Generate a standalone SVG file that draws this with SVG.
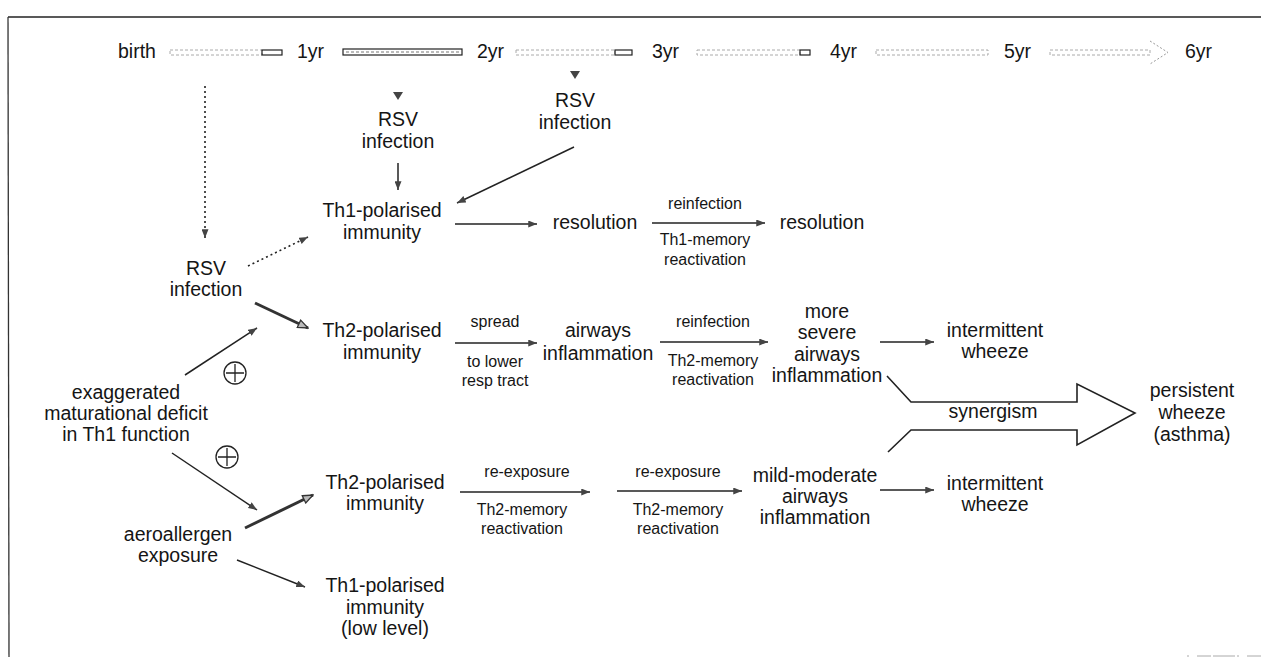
<svg xmlns="http://www.w3.org/2000/svg" width="1261" height="657" viewBox="0 0 1261 657">
<style>
text{font-family:"Liberation Sans",Arial,sans-serif;fill:#151515;text-anchor:middle}
.m{font-size:19.5px}
.s{font-size:16px}
.tl{font-size:19.5px;text-anchor:start}
.ln{stroke:#222;stroke-width:1.5;fill:none}
.thk{stroke:#333;stroke-width:3;fill:none}
.dot{stroke:#222;stroke-width:1.6;fill:none;stroke-dasharray:2 3}
.fbar{fill:none;stroke:#aaa;stroke-width:1;stroke-dasharray:3 2}
.sbar{fill:none;stroke:#222;stroke-width:1.2}
.tri{fill:#444}
</style>
<defs>
<marker id="ah" viewBox="0 0 10 8" refX="10" refY="4" markerWidth="9" markerHeight="7" markerUnits="userSpaceOnUse" orient="auto">
<path d="M0,0 L10,4 L0,8 z" fill="#444"/>
</marker>
<marker id="ahH" viewBox="0 0 12 10" refX="11" refY="5" markerWidth="12" markerHeight="10" markerUnits="userSpaceOnUse" orient="auto">
<path d="M1,1 L11,5 L1,9 z" fill="#bbb" stroke="#333" stroke-width="1.3"/>
</marker>
</defs>

<g id="frame">
<line x1="8" y1="17" x2="1261" y2="17" stroke="#222" stroke-width="1.5"/>
<line x1="8" y1="17" x2="9" y2="657" stroke="#333" stroke-width="1.3"/>
<line x1="1187" y1="656" x2="1261" y2="656" stroke="#aaa" stroke-width="1" stroke-dasharray="2 8 14 2 22 2"/>
</g>

<g id="timeline">
<text class="tl" x="118" y="58">birth</text>
<rect class="fbar" x="170" y="50" width="92" height="5"/>
<rect class="sbar" x="262" y="50" width="20" height="5"/>
<text class="tl" x="297" y="58">1yr</text>
<rect class="sbar" x="343" y="49" width="119" height="6"/>
<line x1="346" y1="52" x2="459" y2="52" stroke="#777" stroke-width="1" stroke-dasharray="3 2"/>
<text class="tl" x="477" y="58">2yr</text>
<rect class="fbar" x="516" y="50" width="99" height="5"/>
<rect class="sbar" x="615" y="50" width="17" height="5"/>
<text class="tl" x="652" y="58">3yr</text>
<rect class="fbar" x="697" y="50" width="103" height="5"/>
<rect class="sbar" x="800" y="50" width="10" height="5"/>
<text class="tl" x="830" y="58">4yr</text>
<rect class="fbar" x="876" y="50" width="112" height="5"/>
<text class="tl" x="1004" y="58">5yr</text>
<rect class="fbar" x="1050" y="50" width="100" height="5"/>
<path d="M1150,41 L1168,52.5 L1150,64" fill="none" stroke="#999" stroke-width="1" stroke-dasharray="2 2"/>
<text class="tl" x="1185" y="58">6yr</text>
<path class="tri" d="M393,92 L403,92 L398,100 z"/>
<path class="tri" d="M570,71 L580,71 L575,79 z"/>
</g>

<g id="rsv1">
<text class="m" x="398" y="126">RSV</text>
<text class="m" x="398" y="148">infection</text>
</g>
<g id="rsv2">
<text class="m" x="575" y="107">RSV</text>
<text class="m" x="575" y="129">infection</text>
</g>
<g id="rsv0">
<text class="m" x="206" y="275">RSV</text>
<text class="m" x="206" y="296">infection</text>
</g>
<g id="th1a">
<text class="m" x="382" y="217">Th1-polarised</text>
<text class="m" x="382" y="239">immunity</text>
</g>
<g id="res1"><text class="m" x="595" y="229">resolution</text></g>
<g id="res2"><text class="m" x="822" y="229">resolution</text></g>
<g id="th2a">
<text class="m" x="382" y="337">Th2-polarised</text>
<text class="m" x="382" y="359">immunity</text>
</g>
<g id="airways">
<text class="m" x="598" y="337">airways</text>
<text class="m" x="598" y="360">inflammation</text>
</g>
<g id="severe">
<text class="m" x="827" y="318">more</text>
<text class="m" x="827" y="339">severe</text>
<text class="m" x="827" y="361">airways</text>
<text class="m" x="827" y="382">inflammation</text>
</g>
<g id="iw1">
<text class="m" x="995" y="337">intermittent</text>
<text class="m" x="995" y="358">wheeze</text>
</g>
<g id="deficit">
<text class="m" x="126" y="399">exaggerated</text>
<text class="m" x="126" y="420">maturational deficit</text>
<text class="m" x="126" y="441">in Th1 function</text>
</g>
<g id="aero">
<text class="m" x="178" y="541">aeroallergen</text>
<text class="m" x="178" y="562">exposure</text>
</g>
<g id="th2b">
<text class="m" x="385" y="489">Th2-polarised</text>
<text class="m" x="385" y="510">immunity</text>
</g>
<g id="th1b">
<text class="m" x="385" y="592">Th1-polarised</text>
<text class="m" x="385" y="614">immunity</text>
<text class="m" x="385" y="635">(low level)</text>
</g>
<g id="mild">
<text class="m" x="815" y="482">mild-moderate</text>
<text class="m" x="815" y="503">airways</text>
<text class="m" x="815" y="524">inflammation</text>
</g>
<g id="iw2">
<text class="m" x="995" y="490">intermittent</text>
<text class="m" x="995" y="511">wheeze</text>
</g>
<g id="persistent">
<text class="m" x="1192" y="397">persistent</text>
<text class="m" x="1192" y="419">wheeze</text>
<text class="m" x="1192" y="441">(asthma)</text>
</g>
<g id="plus1">
<circle cx="235" cy="373" r="11" fill="none" stroke="#222" stroke-width="1.3"/>
<path d="M235,364 V382 M226,373 H244" stroke="#222" stroke-width="1.3"/>
</g>
<g id="plus2">
<circle cx="227" cy="457" r="11" fill="none" stroke="#222" stroke-width="1.3"/>
<path d="M227,448 V466 M218,457 H236" stroke="#222" stroke-width="1.3"/>
</g>

<g id="connectors">
<line class="dot" x1="205" y1="86" x2="205" y2="238" marker-end="url(#ah)"/>
<line class="dot" x1="248" y1="266" x2="308" y2="237" marker-end="url(#ah)"/>
<line class="ln" x1="398" y1="163" x2="398" y2="190" marker-end="url(#ah)"/>
<line class="ln" x1="574" y1="147" x2="457" y2="203" marker-end="url(#ah)"/>
<line class="thk" x1="255" y1="303" x2="308" y2="328" marker-end="url(#ahH)"/>
<line class="ln" x1="185" y1="375" x2="257" y2="328" marker-end="url(#ah)"/>
<line class="ln" x1="172" y1="453" x2="257" y2="510" marker-end="url(#ah)"/>
<line class="thk" x1="245" y1="528" x2="313" y2="495" marker-end="url(#ahH)"/>
<line class="ln" x1="237" y1="560" x2="305" y2="587" marker-end="url(#ah)"/>
<line class="ln" x1="455" y1="224" x2="537" y2="224" marker-end="url(#ah)"/>
<line class="ln" x1="652" y1="223" x2="765" y2="223" marker-end="url(#ah)"/>
<text class="s" x="705" y="209">reinfection</text>
<text class="s" x="705" y="245">Th1-memory</text>
<text class="s" x="705" y="265">reactivation</text>
<line class="ln" x1="455" y1="343" x2="537" y2="343" marker-end="url(#ah)"/>
<text class="s" x="495" y="327">spread</text>
<text class="s" x="495" y="367">to lower</text>
<text class="s" x="495" y="386">resp tract</text>
<line class="ln" x1="660" y1="342" x2="768" y2="342" marker-end="url(#ah)"/>
<text class="s" x="713" y="327">reinfection</text>
<text class="s" x="713" y="366">Th2-memory</text>
<text class="s" x="713" y="385">reactivation</text>
<line class="ln" x1="880" y1="342" x2="934" y2="342" marker-end="url(#ah)"/>
<line class="ln" x1="460" y1="492" x2="590" y2="492" marker-end="url(#ah)"/>
<text class="s" x="527" y="477">re-exposure</text>
<text class="s" x="522" y="515">Th2-memory</text>
<text class="s" x="522" y="534">reactivation</text>
<line class="ln" x1="617" y1="491" x2="742" y2="491" marker-end="url(#ah)"/>
<text class="s" x="678" y="477">re-exposure</text>
<text class="s" x="678" y="515">Th2-memory</text>
<text class="s" x="678" y="534">reactivation</text>
<line class="ln" x1="880" y1="490" x2="934" y2="490" marker-end="url(#ah)"/>
<path d="M887,376 L911,402 L1077,402 L1077,384 L1135,413 L1077,445 L1077,430 L911,430 L888,452" fill="none" stroke="#222" stroke-width="1.6"/>
<text class="m" x="993" y="418">synergism</text>
</g>
</svg>
